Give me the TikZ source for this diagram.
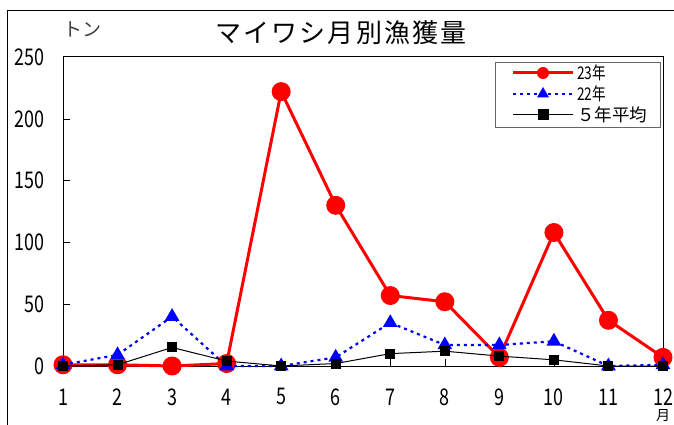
\documentclass[tikz,border=0pt]{standalone}
\usepackage{fontspec}
\setmainfont{Noto Sans CJK JP}
\usetikzlibrary{shapes.geometric,calc}
\newcommand\narrow[1]{\scalebox{0.78}[1]{#1}}

\begin{document}
\begin{tikzpicture}[
    x=1pt, y=-1pt,
    ticklabel/.style = {font=\fontsize{23}{23}\selectfont, inner sep=0pt},
    redline/.style = {red, line width=3pt, line join=round},
    blueline/.style = {blue, line width=2.2pt, dash pattern=on 3pt off 4pt},
    blackline/.style = {black, line width=1pt},
    redmark/.style = {circle, fill=red, minimum size=19pt, inner sep=0pt},
    bluemark/.style = {regular polygon, regular polygon sides=3, fill=blue, minimum size=17pt, inner sep=0pt},
    blackmark/.style = {rectangle, fill=black, minimum size=10pt, inner sep=0pt},
    legendtext/.style = {font=\fontsize{17.5}{17.5}\selectfont, anchor=west, inner sep=0pt}
  ]
    \useasboundingbox (0,0) rectangle (674,425);
    \clip (0,0) rectangle (674,425);
    \fill[white] (0,0) rectangle (674,425);

    % chart frame and titles
    \draw[line width=1pt] (7,11) rectangle (700,450);
    \node[font=\fontsize{26}{26}\selectfont\addfontfeature{LetterSpace=8}] (title) at (341,33) {マイワシ月別漁獲量};
    \node[font=\fontsize{19}{19}\selectfont, text=black!75] (unit) at (82,29) {トン};

    % plot area
    \draw[line width=1pt] (63,57) rectangle (663,366);
    \begin{scope}[shift={(63,366)}, x=54.545pt, y=1.236pt]
      % axes ticks and labels
      \foreach \v in {0,50,...,250} {
        \node[ticklabel, anchor=east] (y\v) at (-18pt,\v) {\narrow{\v}};
      }
      \foreach \v in {50,100,...,200} {
        \draw (0,\v) -- ++(7pt,0);
      }
      \foreach \m in {1,...,12} {
        \node[ticklabel] (x\m) at (\m-1,-25) {\narrow{\m}};
      }
      \foreach \m in {2,...,11} {
        \draw (\m-1,0) -- ++(0,7pt);
      }
      \node[font=\fontsize{14}{14}\selectfont, inner sep=0pt] (month) at (11,-40) {月};

      % 23 nen
      \foreach \v [count=\m] in {1,1,0,2,222,130,57,52,7,108,37,7} {
        \coordinate (r\m) at (\m-1,\v);
      }
      \draw[redline] (r1) \foreach \m in {2,...,12} { -- (r\m) };
      \foreach \m in {1,...,12} { \node[redmark] at (r\m) {}; }

      % 22 nen
      \foreach \v [count=\m] in {1,9,40,0,0,7,35,17,17,20,0,1} {
        \coordinate (b\m) at (\m-1,\v);
      }
      \draw[blueline] (b1) \foreach \m in {2,...,12} { -- (b\m) };
      \foreach \m in {1,...,12} { \node[bluemark] at (b\m) {}; }

      % 5 nen heikin
      \foreach \v [count=\m] in {0,1,15,4,0,2,10,12,8,5,0,0} {
        \coordinate (k\m) at (\m-1,\v);
      }
      \draw[blackline] (k1) \foreach \m in {2,...,12} { -- (k\m) };
      \foreach \m in {1,...,12} { \node[blackmark] at (k\m) {}; }
    \end{scope}

    % legend
    \node[draw=black!60, line width=1.2pt, fill=white, minimum width=165pt, minimum height=65pt,
          anchor=north west, inner sep=0pt] (legend) at (495,62) {};
    \coordinate (la1) at (513,73);  \coordinate (lb1) at (573,73);
    \coordinate (la2) at (513,94);  \coordinate (lb2) at (573,94);
    \coordinate (la3) at (513,115); \coordinate (lb3) at (573,115);
    \draw[redline] (la1) -- (lb1);
    \node[redmark, minimum size=12pt] (lm1) at ($(la1)!0.5!(lb1)$) {};
    \draw[blueline] (la2) -- (lb2);
    \node[bluemark, minimum size=14pt] (lm2) at ($(la2)!0.5!(lb2)$) {};
    \draw[blackline] (la3) -- (lb3);
    \node[blackmark, minimum size=11pt] (lm3) at ($(la3)!0.5!(lb3)$) {};
    \node[legendtext] (lt1) at (577,73) {\narrow{23年}};
    \node[legendtext] (lt2) at (577,94) {\narrow{22年}};
    \node[legendtext] (lt3) at (577,115) {５年平均};
\end{tikzpicture}
\end{document}
